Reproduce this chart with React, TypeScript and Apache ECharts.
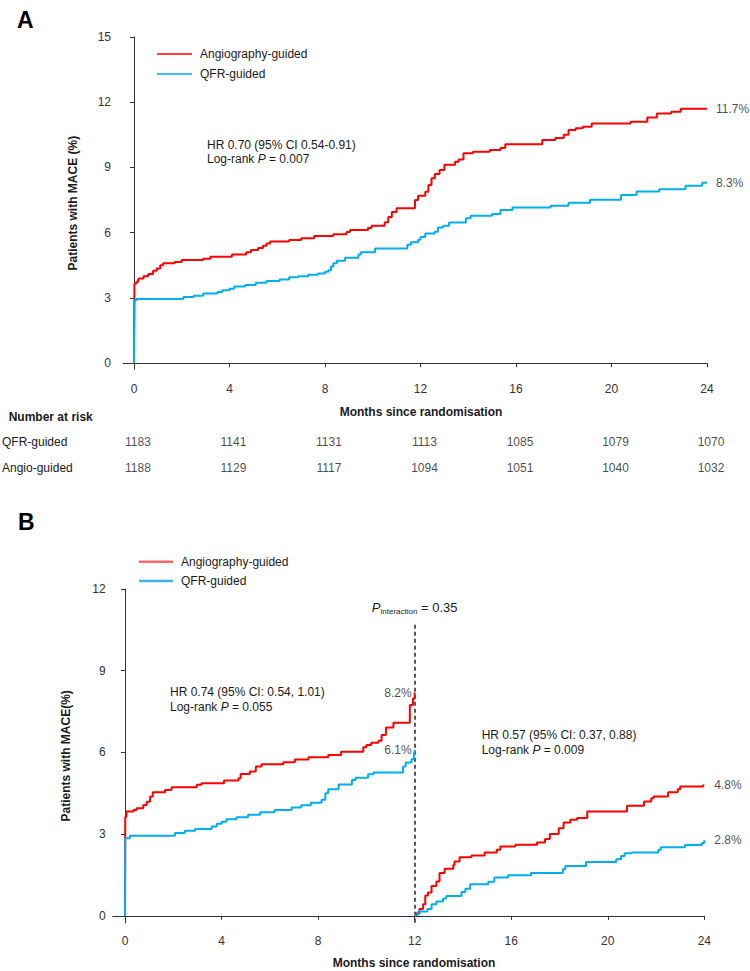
import React, { useEffect, useRef } from "react";
import * as echarts from "echarts";

const FONT = "'Liberation Sans', Arial, Helvetica, sans-serif";
const RED = "#ff0000";
const BLUE = "#00aeef";
const INK = "#1a1a1a";
const AXIS = "#333333";

const MONTH_TICKS = [0, 4, 8, 12, 16, 20, 24];
const A_Y_TICKS = [0, 3, 6, 9, 12, 15];
const B_Y_TICKS = [0, 3, 6, 9, 12];
const RISK_ROWS = ["QFR-guided", "Angio-guided"];
const RISK_QFR = [1183, 1141, 1131, 1113, 1085, 1079, 1070];
const RISK_ANGIO = [1188, 1129, 1117, 1094, 1051, 1040, 1032];
const LEGEND_NAMES = ["Angiography-guided", "QFR-guided"];

// Panel A: cumulative MACE (%) by month, [month, value after event]
const A_ANGIO = [
  [0, 0], [0, 0.8], [0.02, 3.67], [0.1, 3.75], [0.18, 3.9], [0.4, 4.0], [0.6, 4.1], [0.8, 4.25],
  [0.95, 4.35], [1.1, 4.5], [1.22, 4.6], [1.7, 4.65], [2.0, 4.75], [2.9, 4.8], [3.2, 4.9],
  [4.1, 5.0], [4.7, 5.1], [4.9, 5.2], [5.2, 5.3], [5.4, 5.4], [5.55, 5.5], [5.7, 5.6],
  [6.5, 5.66], [7.0, 5.75], [7.55, 5.85], [8.35, 5.93], [8.9, 6.03], [9.05, 6.12], [9.8, 6.22],
  [9.95, 6.32], [10.5, 6.48], [10.65, 6.72], [10.8, 6.95], [11.0, 7.12], [11.77, 7.5],
  [11.9, 7.7], [12.2, 7.88], [12.33, 8.19], [12.46, 8.5], [12.6, 8.7], [12.8, 8.88],
  [13.0, 9.12], [13.45, 9.26], [13.6, 9.37], [13.8, 9.65], [14.2, 9.72], [14.9, 9.8],
  [15.35, 9.9], [15.55, 10.07], [17.1, 10.26], [17.65, 10.36], [18.0, 10.5], [18.2, 10.72],
  [18.5, 10.8], [18.8, 10.87], [19.17, 11.02], [20.8, 11.1], [21.5, 11.3], [21.9, 11.48],
  [22.5, 11.56], [22.9, 11.7], [24, 11.7],
];
const A_QFR = [
  [0, 0], [0.02, 2.9], [0.1, 2.95], [2.07, 3.05], [2.5, 3.1], [2.9, 3.2], [3.5, 3.27],
  [3.7, 3.35], [4.0, 3.42], [4.2, 3.53], [4.65, 3.6], [5.1, 3.7], [5.55, 3.78], [6.1, 3.85],
  [6.5, 3.95], [6.88, 4.0], [7.3, 4.07], [7.7, 4.13], [8.0, 4.2], [8.14, 4.28], [8.25, 4.45],
  [8.35, 4.6], [8.5, 4.71], [8.84, 4.85], [9.4, 5.0], [9.5, 5.1], [10.1, 5.28], [11.45, 5.45],
  [11.6, 5.56], [11.9, 5.68], [12.0, 5.8], [12.2, 5.97], [12.6, 6.04], [12.73, 6.24],
  [12.95, 6.32], [13.2, 6.47], [13.9, 6.66], [14.1, 6.78], [15.0, 6.86], [15.35, 7.04],
  [15.85, 7.16], [17.45, 7.24], [18.2, 7.38], [19.1, 7.52], [20.4, 7.73], [21.05, 7.9],
  [22.0, 8.0], [23.1, 8.16], [23.8, 8.3], [24, 8.3],
];

// Panel B: landmark analysis, 0-12 and 12-24 months
const B_ANGIO_EARLY = [
  [0, 0], [0.01, 3.64], [0.06, 3.83], [0.35, 3.89], [0.48, 3.95], [0.76, 4.07], [0.9, 4.19],
  [1.04, 4.38], [1.15, 4.54], [1.66, 4.62], [1.93, 4.72], [2.97, 4.81], [3.17, 4.87],
  [4.1, 4.97], [4.7, 5.05], [4.79, 5.21], [5.17, 5.3], [5.42, 5.48], [5.66, 5.57], [6.56, 5.64],
  [7.04, 5.74], [7.6, 5.82], [8.42, 5.91], [8.95, 6.03], [9.87, 6.19], [10.0, 6.27],
  [10.2, 6.36], [10.5, 6.43], [10.63, 6.64], [10.81, 6.92], [11.12, 7.09], [11.8, 7.74],
  [11.93, 7.98], [12, 8.2],
];
const B_QFR_EARLY = [
  [0, 0], [0.01, 2.85], [0.2, 2.94], [2.07, 3.04], [2.48, 3.13], [2.9, 3.19], [3.59, 3.28],
  [3.8, 3.38], [4.0, 3.46], [4.2, 3.55], [4.62, 3.62], [5.1, 3.71], [5.6, 3.8], [6.2, 3.89],
  [6.9, 3.98], [7.3, 4.06], [7.7, 4.15], [8.14, 4.26], [8.3, 4.5], [8.42, 4.65], [8.85, 4.82],
  [9.4, 4.99], [9.55, 5.07], [10.07, 5.2], [10.3, 5.26], [11.52, 5.48], [11.63, 5.63],
  [11.87, 5.75], [11.97, 6.0], [12, 6.1],
];
const B_ANGIO_LATE = [
  [12, 0], [12.07, 0.1], [12.2, 0.25], [12.35, 0.43], [12.44, 0.75], [12.55, 0.86], [12.7, 1.1],
  [12.9, 1.26], [13.03, 1.57], [13.24, 1.73], [13.6, 1.87], [13.65, 2.0], [13.86, 2.15],
  [14.35, 2.22], [14.9, 2.33], [15.4, 2.43], [15.55, 2.55], [16.17, 2.61], [17.07, 2.69],
  [17.4, 2.82], [17.6, 3.01], [17.97, 3.22], [18.17, 3.43], [18.45, 3.53], [18.73, 3.59],
  [19.15, 3.83], [20.8, 4.04], [21.5, 4.2], [21.8, 4.32], [21.9, 4.38], [22.5, 4.54],
  [22.9, 4.65], [23.0, 4.75], [23.95, 4.8], [24, 4.8],
];
const B_QFR_LATE = [
  [12, 0], [12.02, 0.04], [12.15, 0.16], [12.53, 0.25], [12.7, 0.43], [12.9, 0.53],
  [13.18, 0.64], [13.31, 0.73], [13.94, 0.88], [14.1, 1.0], [14.3, 1.16], [15.05, 1.25],
  [15.3, 1.41], [15.87, 1.49], [16.82, 1.57], [18.14, 1.71], [18.24, 1.83], [19.1, 1.98],
  [20.35, 2.08], [20.55, 2.2], [20.7, 2.3], [21.0, 2.33], [22.1, 2.43], [22.2, 2.52],
  [23.2, 2.6], [23.9, 2.68], [24, 2.78],
];
const LANDMARK = 12;
const LANDMARK_LINE_TOP = 10.75;

const A_X_MIN = -0.46;
const A_Y_MIN = -0.28;
const B_X_MIN = -0.51;
const B_Y_MIN = -0.25;

const last = (arr: number[][]) => arr[arr.length - 1];

function valueAxis(gridIndex: number, min: number, max: number, ticks: number[], margin: number, extra: any = {}) {
  return {
    type: "value",
    gridIndex,
    min,
    max,
    splitLine: { show: false },
    axisLine: { show: true, lineStyle: { color: AXIS, width: 1 } },
    axisTick: { show: true, length: 4, customValues: ticks, lineStyle: { color: AXIS, width: 1 } },
    axisLabel: { customValues: ticks, margin, fontSize: 12, color: "#333", fontFamily: FONT },
    ...extra,
  };
}

function stepLine(name: string, data: number[][], color: string, axis: number, extra: any = {}) {
  return {
    type: "line",
    name,
    xAxisIndex: axis,
    yAxisIndex: axis,
    data,
    step: "end",
    symbol: "none",
    showSymbol: false,
    lineStyle: { color, width: 2 },
    itemStyle: { color },
    z: 3,
    ...extra,
  };
}

function endLabels(points: number[][], axis: number, position: string, distance: number) {
  return {
    type: "scatter",
    name: "end-labels-" + axis + position,
    xAxisIndex: axis,
    yAxisIndex: axis,
    data: points,
    symbolSize: 0.01,
    itemStyle: { color: "rgba(0,0,0,0)" },
    silent: true,
    z: 5,
    label: {
      show: true,
      position,
      distance,
      formatter: (p: any) => `${p.value[1].toFixed(1)}%`,
      fontSize: 12,
      color: INK,
      fontFamily: FONT,
    },
  };
}

function txt(text: string, x: number, y: number, extra: any = {}) {
  return {
    type: "text",
    x,
    y,
    silent: true,
    style: {
      text,
      fill: INK,
      fontSize: 12,
      fontFamily: FONT,
      textVerticalAlign: "middle",
      verticalAlign: "middle",
      ...extra,
    },
  };
}

function richTxt(text: string, x: number, y: number) {
  return txt(text, x, y, {
    rich: { i: { fontStyle: "italic", fontSize: 12, fontFamily: FONT, fill: INK } },
  });
}

export default function App() {
  const ref = useRef<HTMLDivElement>(null);

  useEffect(() => {
    document.body.style.margin = "0";
    if (!ref.current) return;
    const chart = echarts.init(ref.current, undefined, { renderer: "svg" });

    const riskData = [
      ...MONTH_TICKS.map((m, i) => [m, RISK_ROWS[0], RISK_QFR[i]]),
      ...MONTH_TICKS.map((m, i) => [m, RISK_ROWS[1], RISK_ANGIO[i]]),
    ];

    const option: any = {
      animation: false,
      backgroundColor: "#ffffff",
      textStyle: { fontFamily: FONT },
      grid: [
        { left: 123, top: 37, width: 584, height: 332.3, outerBoundsMode: "none" },
        { left: 123, top: 429.6, width: 584, height: 50.8, outerBoundsMode: "none" },
        { left: 112.7, top: 589, width: 591.6, height: 333.7, outerBoundsMode: "none" },
      ],
      xAxis: [
        valueAxis(0, A_X_MIN, 24, MONTH_TICKS, 14),
        { type: "value", gridIndex: 1, min: A_X_MIN, max: 24, show: false },
        valueAxis(2, B_X_MIN, 24, MONTH_TICKS, 12),
      ],
      yAxis: [
        valueAxis(0, A_Y_MIN, 15, A_Y_TICKS, 12, {
          name: "Patients with MACE (%)",
          nameLocation: "middle",
          nameGap: 44,
          nameTextStyle: { fontWeight: "bold", fontSize: 12, color: INK, fontFamily: FONT },
        }),
        {
          type: "category",
          gridIndex: 1,
          data: RISK_ROWS,
          inverse: true,
          axisLine: { show: false },
          axisTick: { show: false },
          splitLine: { show: false },
          axisLabel: { align: "left", margin: 121, fontSize: 12, color: INK, fontFamily: FONT },
        },
        valueAxis(2, B_Y_MIN, 12, B_Y_TICKS, 7, {
          name: "Patients with MACE(%)",
          nameLocation: "middle",
          nameGap: 41,
          nameTextStyle: { fontWeight: "bold", fontSize: 12, color: INK, fontFamily: FONT },
        }),
      ],
      legend: [
        {
          data: LEGEND_NAMES,
          orient: "vertical",
          left: 152,
          top: 43,
          itemWidth: 35,
          itemHeight: 1.5,
          itemGap: 8,
          icon: "rect",
          selectedMode: false,
          textStyle: { fontSize: 12, color: INK, fontFamily: FONT, padding: [0, 0, 0, 3] },
        },
        {
          data: [
            { name: LEGEND_NAMES[0], itemStyle: { color: "#ff6666" } },
            { name: LEGEND_NAMES[1], itemStyle: { color: "#3fb0f0" } },
          ],
          orient: "vertical",
          left: 134,
          top: 550.7,
          itemWidth: 34,
          itemHeight: 2.5,
          itemGap: 7.3,
          icon: "rect",
          selectedMode: false,
          textStyle: { fontSize: 12, color: INK, fontFamily: FONT, padding: [0, 0, 0, 3] },
        },
      ],
      series: [
        stepLine(LEGEND_NAMES[0], A_ANGIO, RED, 0),
        stepLine(LEGEND_NAMES[1], A_QFR, BLUE, 0),
        endLabels([last(A_ANGIO), last(A_QFR)], 0, "right", 9),
        {
          type: "scatter",
          name: "risk",
          xAxisIndex: 1,
          yAxisIndex: 1,
          data: riskData,
          symbolSize: 0.01,
          itemStyle: { color: "rgba(0,0,0,0)" },
          silent: true,
          label: {
            show: true,
            position: "inside",
            offset: [4, 0],
            formatter: (p: any) => String(p.value[2]),
            fontSize: 12,
            color: INK,
            fontFamily: FONT,
          },
        },
        stepLine(LEGEND_NAMES[0], B_ANGIO_EARLY, RED, 2, {
          markLine: {
            silent: true,
            symbol: "none",
            z: 2,
            lineStyle: { type: [4, 3], color: "#222", width: 1.5 },
            label: {
              show: true,
              position: "end",
              distance: 8,
              formatter: "{p|P}{s|interaction}{n| = 0.35}",
              rich: {
                p: { fontStyle: "italic", fontSize: 13, color: INK, fontFamily: FONT, verticalAlign: "top", lineHeight: 14 },
                s: { fontSize: 8, color: INK, fontFamily: FONT, verticalAlign: "bottom", lineHeight: 8, padding: [8, 0, 0, 0] },
                n: { fontSize: 13, color: INK, fontFamily: FONT, verticalAlign: "top", lineHeight: 14 },
              },
            },
            data: [[{ coord: [LANDMARK, B_Y_MIN] }, { coord: [LANDMARK, LANDMARK_LINE_TOP] }]],
          },
        }),
        stepLine(LEGEND_NAMES[1], B_QFR_EARLY, BLUE, 2),
        stepLine(LEGEND_NAMES[0], B_ANGIO_LATE, RED, 2),
        stepLine(LEGEND_NAMES[1], B_QFR_LATE, BLUE, 2),
        endLabels([last(B_ANGIO_EARLY), last(B_QFR_EARLY)], 2, "left", 3),
        endLabels([last(B_ANGIO_LATE), last(B_QFR_LATE)], 2, "right", 10),
      ],
      graphic: [
        txt("A", 17, 20, { fontSize: 23, fontWeight: "bold", fill: "#000" }),
        txt("B", 18, 521.7, { fontSize: 23, fontWeight: "bold", fill: "#000" }),
        txt("HR 0.70 (95% CI 0.54-0.91)", 207, 145),
        richTxt("Log-rank {i|P} = 0.007", 207, 158.5),
        txt("Months since randomisation", 421, 411.7, { fontWeight: "bold", textAlign: "center", align: "center" }),
        txt("Number at risk", 8.7, 416.7, { fontWeight: "bold" }),
        txt("HR 0.74 (95% CI: 0.54, 1.01)", 170, 692.3),
        richTxt("Log-rank {i|P} = 0.055", 170, 706.7),
        txt("HR 0.57 (95% CI: 0.37, 0.88)", 481.7, 735),
        richTxt("Log-rank {i|P} = 0.009", 481.7, 749.5),
        txt("Months since randomisation", 414, 963, { fontWeight: "bold", textAlign: "center", align: "center" }),
      ],
    };

    chart.setOption(option);
    return () => chart.dispose();
  }, []);

  return <div ref={ref} style={{ width: 750, height: 971 }} />;
}
